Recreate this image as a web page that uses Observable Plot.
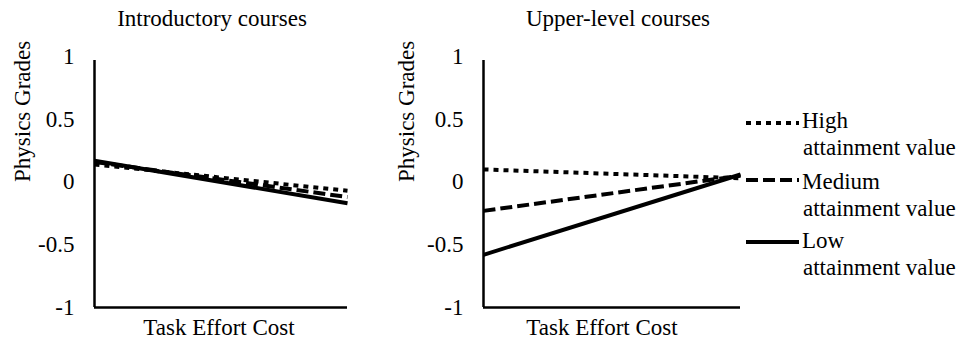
<!DOCTYPE html>
<html>
<head>
<meta charset="utf-8">
<script src="https://cdn.jsdelivr.net/npm/d3@7"></script>
<script src="https://cdn.jsdelivr.net/npm/@observablehq/plot@0.6"></script>
<style>
  html, body { margin: 0; padding: 0; background: #fff; }
  #wrap { position: relative; width: 965px; height: 344px; font-family: 'Liberation Serif', 'Times New Roman', serif; }
  .panel { position: absolute; top: 0; }
  #legend { position: absolute; left: 746px; top: 0; width: 219px; height: 344px; }
  svg text { font-family: 'Liberation Serif', 'Times New Roman', serif !important; }
</style>
</head>
<body>
<div id="wrap">
  <div class="panel" id="p1" style="left:0px"></div>
  <div class="panel" id="p2" style="left:389px"></div>
  <svg id="legend" width="219" height="344"></svg>
</div>
<script>
// ---- data ----
const effort = [-1, 1]; // low -> high task effort cost
const groups = ["High attainment value", "Medium attainment value", "Low attainment value"];
const introHigh = [0.14, -0.07];
const introMed  = [0.16, -0.12];
const introLow  = [0.17, -0.17];
const upperHigh = [0.10, 0.03];
const upperMed  = [-0.23, 0.05];
const upperLow  = [-0.58, 0.06];
const yTicks = [-1, -0.5, 0, 0.5, 1];
const titles = ["Introductory courses", "Upper-level courses"];

const dashes = {
  "High attainment value": "5,5",
  "Medium attainment value": "12,5",
  "Low attainment value": null
};

const FONT = "'Liberation Serif', 'Times New Roman', serif";

function rows(h, m, l) {
  const out = [];
  [h, m, l].forEach((s, i) => s.forEach((v, j) => out.push({g: groups[i], x: effort[j], y: v})));
  return out;
}

function panel(data, title, opts) {
  const marks = [
    Plot.ruleX([-1], {y1: -1, y2: 1, stroke: "black", strokeWidth: 2.5, insetBottom: -4}),
    Plot.ruleY([-1], {x1: -1, x2: 1, stroke: "black", strokeWidth: 2.5})
  ];
  groups.forEach(g => {
    marks.push(Plot.line(data.filter(d => d.g === g), {
      x: "x", y: "y", stroke: "black", strokeWidth: 4,
      strokeDasharray: dashes[g], strokeLinecap: "butt"
    }));
  });
  marks.push(Plot.text([title], {frameAnchor: "top", lineAnchor: "middle", dy: -38, dx: opts.titleDx, fontSize: 23, fill: "black"}));
  marks.push(Plot.text(["Physics Grades"], {frameAnchor: "left", lineAnchor: "middle", dx: opts.labelDx, rotate: -90, fontSize: 23, fill: "black"}));
  marks.push(Plot.text(["Task Effort Cost"], {frameAnchor: "bottom", lineAnchor: "middle", dy: 20, dx: opts.xlabDx, fontSize: 23, fill: "black"}));
  return Plot.plot({
    width: opts.width, height: 344,
    marginLeft: 94, marginRight: 13, marginTop: 56, marginBottom: 37,
    style: {fontFamily: FONT, fontSize: "23px", color: "black", background: "white", overflow: "visible"},
    x: {domain: [-1, 1], axis: null},
    y: {domain: [-1, 1], ticks: yTicks, tickSize: 0, tickPadding: 20, tickFormat: d => String(d), label: null},
    marks
  });
}

document.getElementById("p1").appendChild(panel(rows(introHigh, introMed, introLow), titles[0], {width: 360, titleDx: -9, labelDx: -72, xlabDx: -2}));
document.getElementById("p2").appendChild(panel(rows(upperHigh, upperMed, upperLow), titles[1], {width: 364, titleDx: 6, labelDx: -77, xlabDx: -10}));

// legend
const leg = d3.select("#legend");
const legY = [123, 180, 242];
const legBase = [128, 189, 248];
groups.forEach((g, i) => {
  const y = legY[i];
  leg.append("line").attr("x1", 0).attr("x2", 53).attr("y1", y).attr("y2", y)
    .attr("stroke", "black").attr("stroke-width", 4)
    .attr("stroke-dasharray", dashes[g]);
  const [first, ...rest] = g.split(" ");
  leg.append("text").attr("x", 56).attr("y", legBase[i]).attr("font-size", 23)
    .style("font-family", FONT).text(first);
  leg.append("text").attr("x", 57).attr("y", legBase[i] + 27).attr("font-size", 23)
    .style("font-family", FONT).text(rest.join(" "));
});
</script>
</body>
</html>
